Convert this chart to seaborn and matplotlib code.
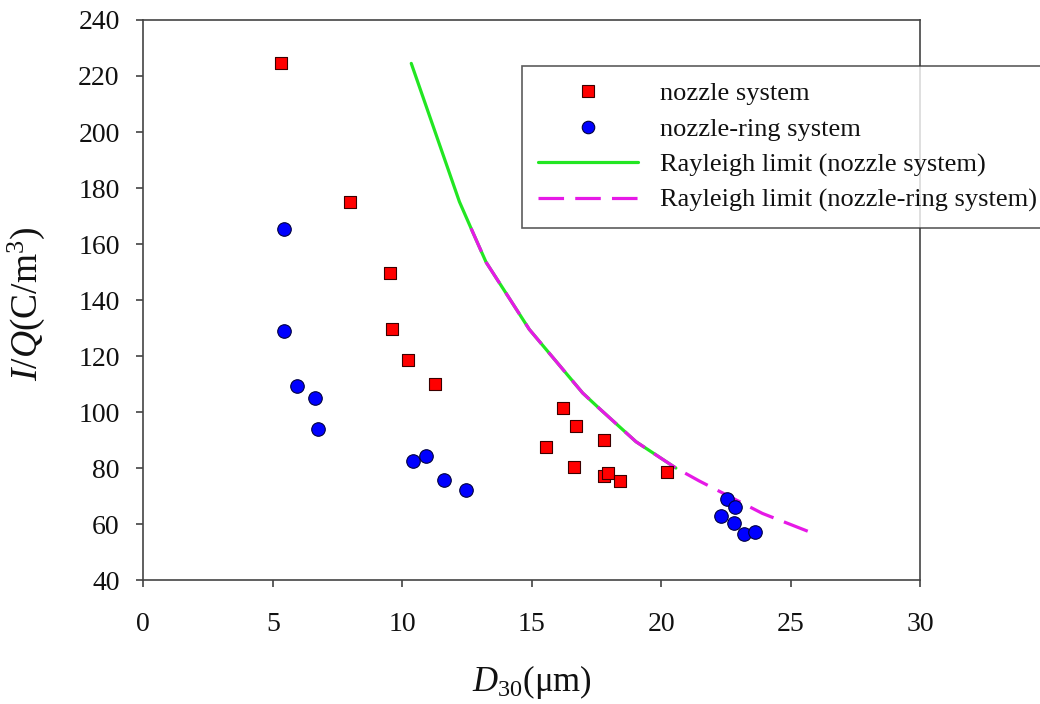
import matplotlib
matplotlib.use("Agg")
import matplotlib.pyplot as plt
import seaborn as sns
import pandas as pd
from matplotlib.lines import Line2D

# ---- data ----
nozzle_d = [5.31, 8.00, 9.53, 9.59, 10.22, 11.26, 16.21, 16.70, 15.57, 17.79,
            16.64, 17.80, 17.95, 18.43, 20.24]
nozzle_iq = [224.5, 175.1, 149.5, 129.8, 118.6, 109.9, 101.4, 94.9, 87.4, 90.0,
             80.4, 77.3, 78.2, 75.4, 78.6]

ring_d = [5.45, 5.45, 5.93, 6.65, 6.76, 10.43, 10.90, 11.62, 12.47,
          22.55, 22.87, 22.33, 22.83, 23.19, 23.62]
ring_iq = [165.5, 129.0, 109.3, 105.0, 94.0, 82.5, 84.3, 75.7, 72.1,
           68.8, 66.1, 62.9, 60.4, 56.4, 57.0]

ray_noz_d = [10.35, 12.21, 12.66, 13.24, 14.91, 16.97, 17.61, 19.03, 20.57]
ray_noz_iq = [224.5, 175.1, 165.6, 153.5, 129.5, 106.8, 101.3, 89.4, 80.0]

ray_ring_d = [12.66, 13.24, 14.91, 16.97, 17.61, 19.03, 20.57, 21.47, 23.91, 26.03]
ray_ring_iq = [165.6, 153.5, 129.5, 106.8, 101.3, 89.4, 80.0, 75.4, 63.8, 56.1]

x_ticks = [0, 5, 10, 15, 20, 25, 30]
y_ticks = [40, 60, 80, 100, 120, 140, 160, 180, 200, 220, 240]

labels = ["nozzle system", "nozzle-ring system",
          "Rayleigh limit (nozzle system)", "Rayleigh limit (nozzle-ring system)"]

# ---- styling ----
sns.set_theme(style="ticks")
plt.rcParams["font.family"] = ["Liberation Serif", "DejaVu Serif"]
plt.rcParams["mathtext.fontset"] = "custom"
plt.rcParams["mathtext.rm"] = "Liberation Serif"
plt.rcParams["mathtext.it"] = "Liberation Serif:italic"

fig = plt.figure(figsize=(10.4, 7.04), dpi=100)
ax = fig.add_axes([0.1378, 0.1761, 0.8846 - 0.1378, 0.9716 - 0.1761])

green = "#22e622"
magenta = "#e619e6"

df_noz = pd.DataFrame({"d": nozzle_d, "iq": nozzle_iq})
df_ring = pd.DataFrame({"d": ring_d, "iq": ring_iq})
df_rn = pd.DataFrame({"d": ray_noz_d, "iq": ray_noz_iq})
df_rr = pd.DataFrame({"d": ray_ring_d, "iq": ray_ring_iq})

sns.lineplot(data=df_rn, x="d", y="iq", ax=ax, color=green, lw=2.3,
             sort=False, estimator=None, zorder=2)
sns.lineplot(data=df_rr, x="d", y="iq", ax=ax, color=magenta, lw=2.3,
             sort=False, estimator=None, dashes=False, zorder=3)
ax.lines[-1].set_dashes((8, 3.5))

sns.scatterplot(data=df_noz, x="d", y="iq", ax=ax, marker="s", s=80,
                color="#ff0000", edgecolor="#3a0000", linewidth=0.8, zorder=4)
sns.scatterplot(data=df_ring, x="d", y="iq", ax=ax, marker="o", s=95,
                color="#0000ff", edgecolor="#000040", linewidth=0.8, zorder=4)

ax.set_xlim(0, 30)
ax.set_ylim(40, 240)
ax.set_xticks(x_ticks)
ax.set_yticks(y_ticks)
ax.tick_params(axis="both", direction="out", length=5, width=1.1,
               color="#333333", labelsize=20, labelcolor="#111111")
ax.tick_params(axis="y", pad=12)
ax.tick_params(axis="x", pad=18)
for sp in ax.spines.values():
    sp.set_color("#444444")
    sp.set_linewidth(1.2)

ax.set_xlabel(r"$\mathit{D}_{30}$(μm)", fontsize=25, color="#111111")
ax.set_ylabel(r"$\mathit{I/Q}$(C/m$^{3}$)", fontsize=27, color="#111111")
ax.xaxis.set_label_coords(0.5, -0.148)
ax.yaxis.set_label_coords(-0.124, 0.493)

handles = [
    Line2D([], [], ls="none", marker="s", ms=8.5, mfc="#ff0000", mec="#3a0000", mew=0.8),
    Line2D([], [], ls="none", marker="o", ms=9, mfc="#0000ff", mec="#000040", mew=0.8),
    Line2D([], [], color=green, lw=2.3),
    Line2D([], [], color=magenta, lw=2.3, dashes=(8, 3.5)),
]
leg = fig.legend(handles, labels, loc="upper left",
                 bbox_to_anchor=(0.502, 0.906), bbox_transform=fig.transFigure,
                 fontsize=19, frameon=True, fancybox=False, edgecolor="#333333",
                 handlelength=3.8, handletextpad=0.83, labelspacing=0.45,
                 borderpad=0.6, borderaxespad=0)
leg.get_frame().set_linewidth(1.2)
for t in leg.get_texts():
    t.set_color("#111111")

fig.savefig("out.png", dpi=100)
